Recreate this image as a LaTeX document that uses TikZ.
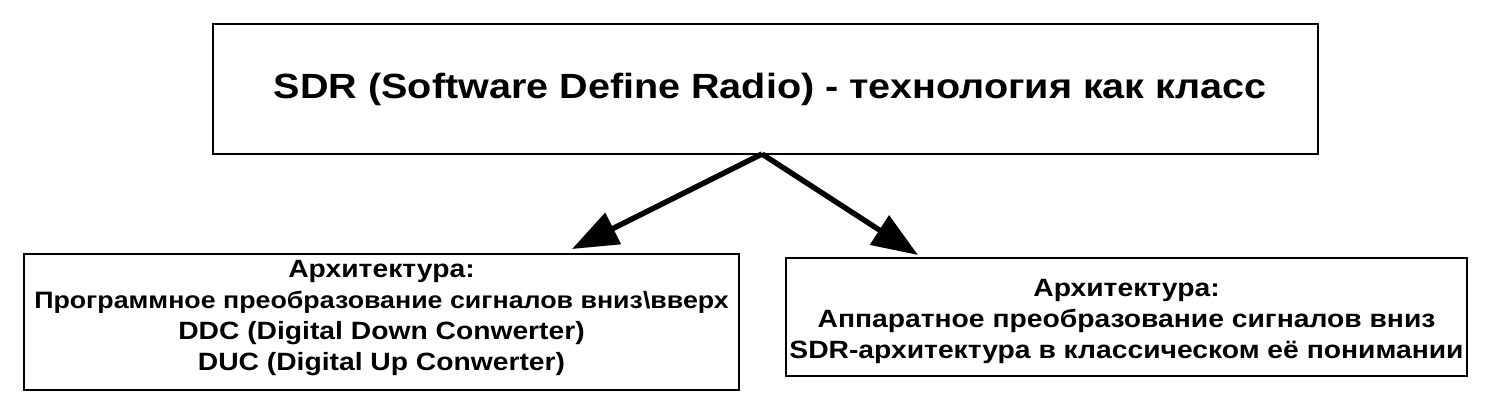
\documentclass[tikz,border=0pt]{standalone}
\usepackage{fontspec}
\setmainfont{Liberation Sans}[FakeStretch=1.13]
\usetikzlibrary{arrows.meta,positioning,calc}

\begin{document}
\begin{tikzpicture}[x=0.5pt,y=-0.5pt]
\tikzstyle{classbox} = [draw, line width=0.6pt, minimum width=552.5pt, minimum height=65pt, font=\fontsize{17.5}{21}\bfseries\selectfont]
\tikzset{archbox/.style={draw, line width=0.6pt, inner sep=0pt}} % lower boxes
\tikzset{archtext/.style={align=center, inner sep=0pt, font=\fontsize{12.5}{15.5}\bfseries\selectfont}}
\tikzset{bigarrow/.style={line width=2.7pt, -{Triangle[length=23pt,width=17pt]}}}
\useasboundingbox (0,0) rectangle (1504,413);

\node[classbox] (sdr) at (765.5,89) {\hspace*{5pt}SDR (Software Define Radio) - технология как класс};

\node[archbox, minimum width=357.5pt, minimum height=68pt] (soft) at (381.5,322) {};
\node[archtext] (softtext) at ($(soft.center)+(0,2pt)$)
  {Архитектура:\\{\fontsize{11.85}{15.5}\selectfont Программное преобразование сигналов вниз\textbackslash вверх}\\DDC (Digital Down Conwerter)\\DUC (Digital Up Conwerter)};
\node[archbox, minimum width=340.5pt, minimum height=59pt] (hard) at (1126.5,317) {};
\node[archtext] (hardtext) at ($(hard.center)+(0,-2pt)$)
  {Архитектура:\\Аппаратное преобразование сигналов вниз\hspace*{12pt}\\SDR-архитектура в классическом её понимании};

\coordinate (apex) at (762,154);
\coordinate (softtip) at (572,249);
\coordinate (hardtip) at (918,255);
\draw[bigarrow] (apex) -- (softtip);
\draw[bigarrow] (apex) -- (hardtip);
\end{tikzpicture}
\end{document}
